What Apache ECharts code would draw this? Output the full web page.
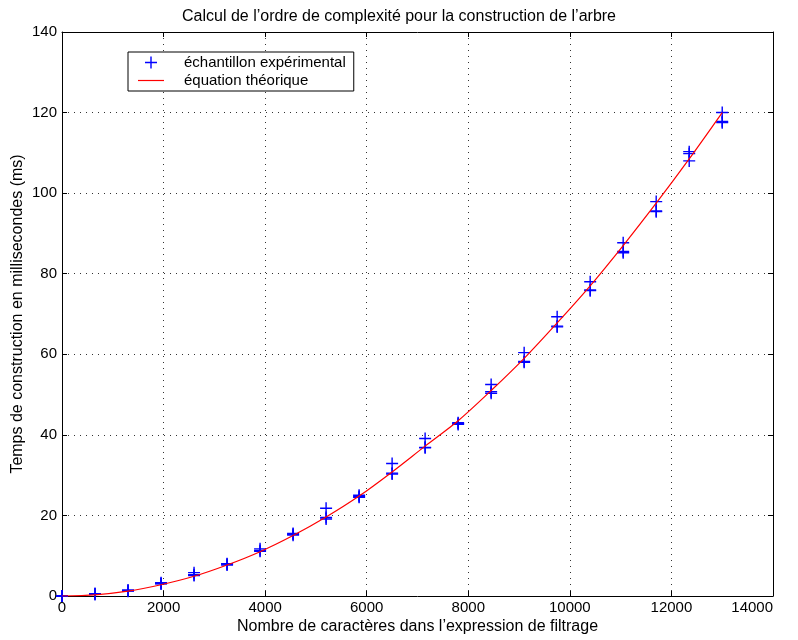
<!DOCTYPE html>
<html>
<head>
<meta charset="utf-8">
<script src="https://cdn.jsdelivr.net/npm/echarts@6/dist/echarts.min.js"></script>
<style>html,body{margin:0;padding:0;background:#fff;}#c{width:798px;height:640px;}</style>
</head>
<body>
<div id="c"></div>
<script>
// Data
var xSamples = [0, 650, 1300, 1950, 2600, 3250, 3900, 4550, 5200, 5850, 6500, 7150, 7800, 8450, 9100, 9750, 10400, 11050, 11700, 12350, 13000];
var expRun1 = [0, 0.6, 1.5, 3.3, 5.8, 8.0, 11.7, 15.5, 21.8, 25.0, 32.9, 39.1, 43.0, 52.5, 60.4, 69.3, 78.0, 87.7, 97.9, 110.3, 120.0];
var expRun2 = [0, 0.4, 1.2, 3.0, 5.1, 7.7, 11.1, 15.1, 19.5, 24.5, 30.5, 36.9, 42.6, 50.7, 58.2, 66.8, 75.8, 85.5, 95.4, 108.0, 117.5];
var expRun3 = [0, 0.5, 1.3, 3.1, 5.3, 7.9, 11.3, 15.3, 19.1, 24.7, 30.3, 36.8, 42.8, 50.3, 58.0, 67.0, 76.0, 85.2, 95.6, 109.8, 117.8];
var theory = [0, 0.3, 1.2, 2.8, 4.9, 7.7, 11.0, 15.0, 19.6, 24.8, 30.8, 37.2, 43.5, 51.0, 59.0, 67.8, 77.0, 87.0, 97.5, 108.5, 120.0];
var xTicks = {min: 0, max: 14000, interval: 2000};
var yTicks = {min: 0, max: 140, interval: 20};
var titleText = "Calcul de l\u2019ordre de complexit\u00e9 pour la construction de l\u2019arbre";
var xName = "Nombre de caract\u00e8res dans l\u2019expression de filtrage";
var yName = "Temps de construction en millisecondes (ms)";
var seriesNames = ["\u00e9chantillon exp\u00e9rimental", "\u00e9quation th\u00e9orique"];

var expData = [];
[expRun1, expRun2, expRun3].forEach(function (run) {
  for (var i = 0; i < xSamples.length; i++) expData.push([xSamples[i], run[i]]);
});
var theoryData = xSamples.map(function (x, i) { return [x, theory[i]]; });

var FONT = "'Liberation Sans', Arial, Helvetica, sans-serif";
var plusPath = 'path://M5.3,0h1.4v12h-1.4z M0,5.3h12v1.4h-12z';
var linePath = 'path://M0,0h26v1.2h-26z';
var gridLine = {show: true, lineStyle: {color: '#333', width: 1, type: [1, 5]}};
var plainNum = function (v) { return String(v); };

var chart = echarts.init(document.getElementById('c'), null, {renderer: 'canvas'});
chart.setOption({
  animation: false,
  backgroundColor: '#fff',
  title: {
    text: titleText, left: 'center', top: 4,
    textStyle: {fontFamily: FONT, fontSize: 16, fontWeight: 'normal', color: '#000'}
  },
  legend: {
    orient: 'vertical', left: 128, top: 52,
    backgroundColor: '#fff', borderColor: '#000', borderWidth: 1, borderRadius: 0,
    padding: [3, 8, 3, 10], itemGap: 3, itemWidth: 26, itemHeight: 12,
    textStyle: {fontFamily: FONT, fontSize: 15, color: '#000', padding: [0, 0, 0, 15]},
    data: [{name: seriesNames[0], icon: plusPath}, {name: seriesNames[1], icon: linePath}]
  },
  grid: {left: 62, right: 25, top: 32, bottom: 44, show: false, containLabel: false, outerBoundsMode: 'none'},
  xAxis: [{
    type: 'value', min: xTicks.min, max: xTicks.max, interval: xTicks.interval,
    name: xName, nameLocation: 'middle', nameGap: 23, nameMoveOverlap: false,
    nameTextStyle: {fontFamily: FONT, fontSize: 16, color: '#000'},
    axisLine: {show: true, onZero: false, lineStyle: {color: '#000', width: 1}},
    axisTick: {show: true, inside: true, length: 5, lineStyle: {color: '#000'}},
    axisLabel: {fontFamily: FONT, fontSize: 15, color: '#000', margin: 4, alignMaxLabel: 'right', formatter: plainNum},
    splitLine: gridLine
  }, {
    type: 'value', position: 'top', min: xTicks.min, max: xTicks.max, interval: xTicks.interval,
    axisLine: {show: true, onZero: false, lineStyle: {color: '#000', width: 1}},
    axisTick: {show: true, inside: true, length: 5, lineStyle: {color: '#000'}},
    axisLabel: {show: false}, splitLine: {show: false}
  }],
  yAxis: [{
    type: 'value', min: yTicks.min, max: yTicks.max, interval: yTicks.interval,
    name: yName, nameLocation: 'middle', nameGap: 36, nameRotate: 90, nameMoveOverlap: false,
    nameTextStyle: {fontFamily: FONT, fontSize: 16, color: '#000'},
    axisLine: {show: true, onZero: false, lineStyle: {color: '#000', width: 1}},
    axisTick: {show: true, inside: true, length: 5, lineStyle: {color: '#000'}},
    axisLabel: {fontFamily: FONT, fontSize: 15, color: '#000', margin: 5, formatter: plainNum},
    splitLine: gridLine
  }, {
    type: 'value', position: 'right', min: yTicks.min, max: yTicks.max, interval: yTicks.interval,
    axisLine: {show: true, onZero: false, lineStyle: {color: '#000', width: 1}},
    axisTick: {show: true, inside: true, length: 5, lineStyle: {color: '#000'}},
    axisLabel: {show: false}, splitLine: {show: false}
  }],
  series: [{
    name: seriesNames[0], type: 'scatter', data: expData,
    symbol: plusPath, symbolSize: 12, symbolKeepAspect: true,
    itemStyle: {color: '#0000ff', opacity: 1}, z: 3
  }, {
    name: seriesNames[1], type: 'line', data: theoryData, smooth: 0.3,
    symbol: 'none', showSymbol: false,
    lineStyle: {color: '#ff0000', width: 1.2}, itemStyle: {color: '#ff0000'}, z: 4
  }]
});
</script>
</body>
</html>
